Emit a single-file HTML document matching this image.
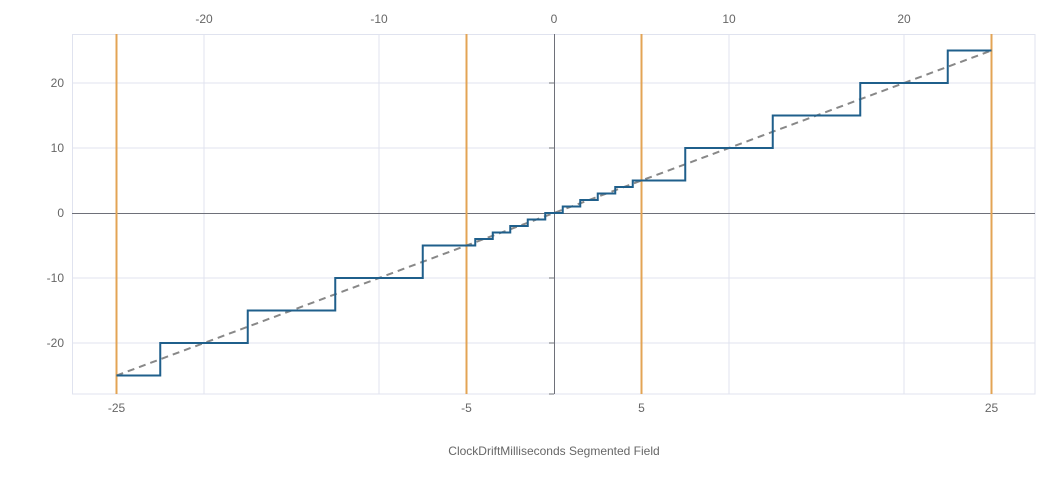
<!DOCTYPE html>
<html><head><meta charset="utf-8"><style>
html,body{margin:0;padding:0;background:#fff;width:1060px;height:480px;overflow:hidden}
text{font-family:"Liberation Sans",sans-serif;font-size:12px;fill:#666}
</style></head><body>
<svg width="1060" height="480" viewBox="0 0 1060 480" xmlns="http://www.w3.org/2000/svg">
<rect x="72.5" y="34.5" width="962.5" height="359.5" fill="none" stroke="#e0e3ef"/>
<g stroke="#e0e3ef" stroke-width="1">
<line x1="204" y1="34" x2="204" y2="394"/><line x1="379" y1="34" x2="379" y2="394"/>
<line x1="729" y1="34" x2="729" y2="394"/><line x1="904" y1="34" x2="904" y2="394"/>
<line x1="72" y1="83" x2="1035" y2="83"/><line x1="72" y1="148" x2="1035" y2="148"/>
<line x1="72" y1="278" x2="1035" y2="278"/><line x1="72" y1="343" x2="1035" y2="343"/>
</g>
<g stroke="#6e7079" stroke-width="1">
<line x1="554.5" y1="34" x2="554.5" y2="394"/>
<line x1="72" y1="213.5" x2="1035" y2="213.5"/>
<line x1="549" y1="83" x2="554" y2="83"/><line x1="549" y1="148" x2="554" y2="148"/>
<line x1="549" y1="278" x2="554" y2="278"/><line x1="549" y1="343" x2="554" y2="343"/>
<line x1="549" y1="394" x2="554" y2="394"/>
</g>
<g stroke="#e3a455" stroke-width="2">
<line x1="116.5" y1="34" x2="116.5" y2="394"/><line x1="466.5" y1="34" x2="466.5" y2="394"/>
<line x1="641.5" y1="34" x2="641.5" y2="394"/><line x1="991.5" y1="34" x2="991.5" y2="394"/>
</g>
<line x1="116.5" y1="375.5" x2="991.5" y2="50.5" stroke="#888" stroke-width="2" stroke-dasharray="7,5"/>
<polyline fill="none" stroke="#1f5f8b" stroke-width="2" points="
116.5,375.5 160.25,375.5 160.25,343 247.75,343 247.75,310.5 335.25,310.5 335.25,278 422.75,278 422.75,245.5
475.25,245.5 475.25,239 492.75,239 492.75,232.5 510.25,232.5 510.25,226 527.75,226 527.75,219.5 545.25,219.5 545.25,213
562.75,213 562.75,206.5 580.25,206.5 580.25,200 597.75,200 597.75,193.5 615.25,193.5 615.25,187 632.75,187 632.75,180.5
685.25,180.5 685.25,148 772.75,148 772.75,115.5 860.25,115.5 860.25,83 947.75,83 947.75,50.5 991.5,50.5"/>
<g text-anchor="middle">
<text x="204" y="23">-20</text><text x="379" y="23">-10</text><text x="554" y="23">0</text>
<text x="729" y="23">10</text><text x="904" y="23">20</text>
<text x="116.5" y="412">-25</text><text x="466.5" y="412">-5</text>
<text x="641.5" y="412">5</text><text x="991.5" y="412">25</text>
<text x="554" y="455" style="font-size:12px">ClockDriftMilliseconds Segmented Field</text>
</g>
<g text-anchor="end">
<text x="64" y="87">20</text><text x="64" y="152">10</text><text x="64" y="217">0</text>
<text x="64" y="282">-10</text><text x="64" y="347">-20</text>
</g>
</svg>
</body></html>
